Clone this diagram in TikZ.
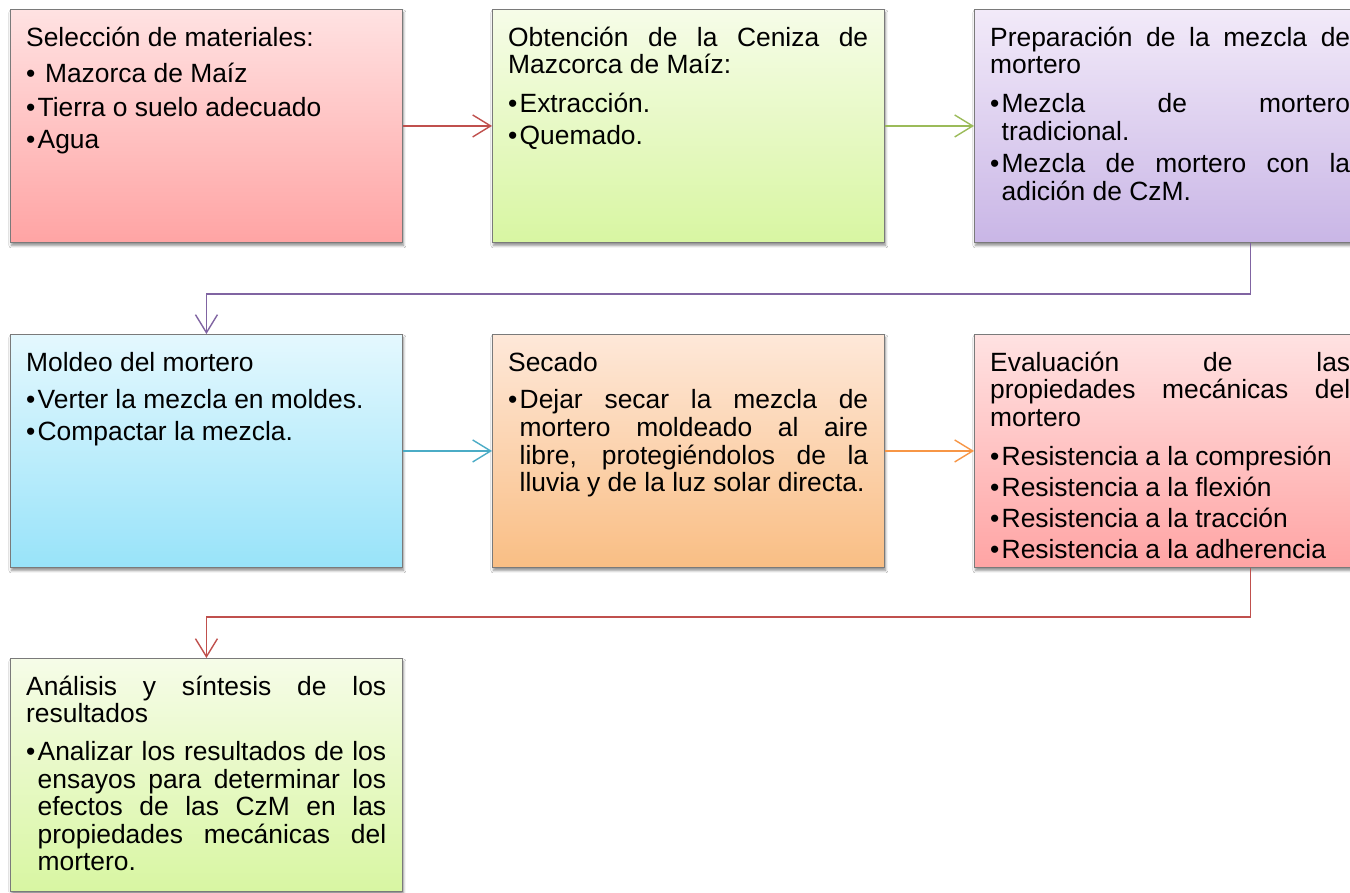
\documentclass[tikz,border=0pt]{standalone}
\usepackage{fontspec}
\setmainfont{Liberation Sans}
\usetikzlibrary{arrows.meta,shadows.blur}
\definecolor{cred}{HTML}{C0504D}
\definecolor{cgreen}{HTML}{9BBB59}
\definecolor{cpurple}{HTML}{8064A2}
\definecolor{cblue}{HTML}{4BACC6}
\definecolor{corange}{HTML}{F79646}
\definecolor{boxgray}{HTML}{7A7A7A}
\definecolor{redtop}{HTML}{FFE2E2}
\definecolor{redbot}{HTML}{FFA4A4}
\definecolor{greentop}{HTML}{F6FCE8}
\definecolor{greenbot}{HTML}{D8F6A2}
\definecolor{purpletop}{HTML}{F2EAF9}
\definecolor{purplebot}{HTML}{C9B6E6}
\definecolor{bluetop}{HTML}{E4F8FE}
\definecolor{bluebot}{HTML}{98E3F9}
\definecolor{orangetop}{HTML}{FEE8D9}
\definecolor{orangebot}{HTML}{F9BE84}
\hyphenpenalty=10000
\exhyphenpenalty=10000
\newcommand{\bul}[1]{\par\vspace{#1}\hangindent=11.5pt\hangafter=1\noindent\makebox[11.5pt][l]{•}}
\newcommand{\fl}{\rule{0pt}{23pt}}
\begin{document}
\begin{tikzpicture}[x=1pt,y=-1pt,
  box/.style={draw=boxgray, line width=0.9pt, minimum width=392pt, minimum height=233pt,
    inner sep=0pt, anchor=north west,
    blur shadow={shadow xshift=1pt, shadow yshift=-3pt, shadow blur radius=2.5pt, shadow blur steps=6, shadow opacity=45}},
  redbox/.style={box, top color=redtop, bottom color=redbot},
  greenbox/.style={box, top color=greentop, bottom color=greenbot},
  purplebox/.style={box, top color=purpletop, bottom color=purplebot},
  bluebox/.style={box, top color=bluetop, bottom color=bluebot},
  orangebox/.style={box, top color=orangetop, bottom color=orangebot},
  txt/.style={anchor=north west, inner sep=0pt, text width=360pt, align=justify,
    font=\fontsize{26.4pt}{27.6pt}\selectfont},
  conn/.style={line width=1.4pt, -{Straight Barb[length=18pt,width=22pt]}}
]
\fill[white] (0,0) rectangle (1350,892);
\useasboundingbox (0,0) rectangle (1350,892);
\clip (0,0) rectangle (1350,892);

% boxes
\node[redbox]    (b1) at (10,9) {};
\node[greenbox]  (b2) at (492,9) {};
\node[purplebox] (b3) at (974,9) {};
\node[bluebox]   (b4) at (10,334) {};
\node[orangebox] (b5) at (492,334) {};
\node[redbox]    (b6) at (974,334) {};
\node[greenbox]  (b7) at (10,658) {};

% texts
\node[txt] (t1) at ([shift={(16,14)}]b1.north west) {\fl Selección de materiales:%
\bul{9pt}\ Mazorca de Maíz\bul{6pt}Tierra o suelo adecuado\bul{4pt}Agua\par};
\node[txt] (t2) at ([shift={(16,14)}]b2.north west) {\fl Obtención de la Ceniza de\linebreak Mazcorca de Maíz:%
\bul{11pt}Extracción.\bul{4pt}Quemado.\par};
\node[txt] (t3) at ([shift={(16,14)}]b3.north west) {\fl Preparación de la mezcla de\linebreak mortero%
\bul{11pt}Mezcla de mortero\linebreak tradicional.\bul{5pt}Mezcla de mortero con la\linebreak adición de CzM.\par};
\node[txt] (t4) at ([shift={(16,14)}]b4.north west) {\fl Moldeo del mortero%
\bul{10pt}Verter la mezcla en moldes.\bul{4pt}Compactar la mezcla.\par};
\node[txt] (t5) at ([shift={(16,14)}]b5.north west) {\fl Secado%
\bul{10pt}Dejar secar la mezcla de\linebreak mortero moldeado al aire\linebreak libre, protegiéndolos de la\linebreak lluvia~y~de~la~luz~solar~directa.\par};
\node[txt] (t6) at ([shift={(16,14)}]b6.north west) {\fl Evaluación de las\linebreak propiedades mecánicas del\linebreak mortero%
\bul{11pt}Resistencia a la compresión\bul{3.5pt}Resistencia a la flexión\bul{3.5pt}Resistencia a la tracción\bul{3.5pt}Resistencia a la adherencia\par};
\node[txt] (t7) at ([shift={(16,14)}]b7.north west) {\fl Análisis y síntesis de los\linebreak resultados%
\bul{10pt}Analizar los resultados de los\linebreak ensayos para determinar los\linebreak efectos de las CzM en las\linebreak propiedades mecánicas del\linebreak mortero.\par};

% connectors
\draw[conn, cred] (b1.east) -- (b2.west);
\draw[conn, cgreen] (b2.east) -- (b3.west);
\draw[conn, cpurple] (b3.south) ++(80,0) -- ++(0,51) -| (b4.north);
\draw[conn, cblue] (b4.east) -- (b5.west);
\draw[conn, corange] (b5.east) -- (b6.west);
\draw[conn, cred] (b6.south) ++(80,0) -- ++(0,49) -| (b7.north);
\end{tikzpicture}
\end{document}
